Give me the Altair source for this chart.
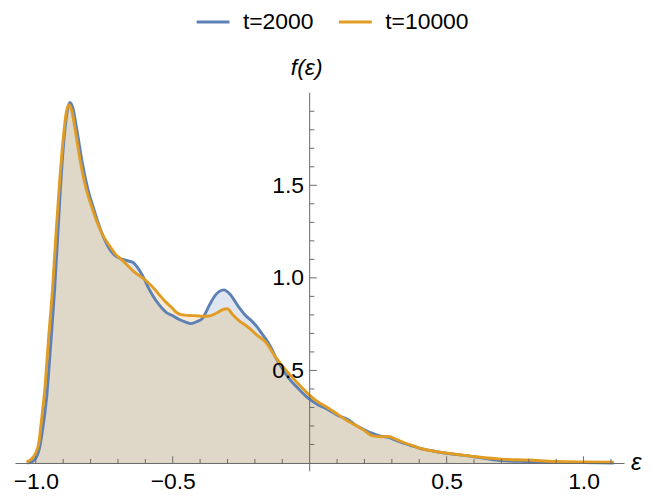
import altair as alt
import pandas as pd

FONT = "Liberation Sans"
SERIES = ["t=2000", "t=10000"]
COLORS = ["#5E81B5", "#E19C24"]

BLUE_X = [-1.03, -1.01, -0.99, -0.975, -0.96, -0.945, -0.931, -0.92, -0.91, -0.895,
          -0.885, -0.876, -0.865, -0.85, -0.83, -0.81, -0.79, -0.773, -0.75, -0.731,
          -0.71, -0.682, -0.66, -0.646, -0.63, -0.61, -0.59, -0.573, -0.55, -0.525,
          -0.5, -0.476, -0.455, -0.434, -0.41, -0.392, -0.367, -0.345, -0.313, -0.29,
          -0.26, -0.234, -0.21, -0.192, -0.175, -0.161, -0.14, -0.125, -0.10, -0.076,
          -0.04, -0.004, 0.03, 0.069, 0.105, 0.142, 0.166, 0.20, 0.227, 0.26,
          0.287, 0.32, 0.348, 0.38, 0.408, 0.45, 0.493, 0.54, 0.59, 0.65,
          0.70, 0.80, 0.90, 1.0, 1.11]
BLUE_Y = [0.0, 0.01, 0.06, 0.18, 0.36, 0.65, 0.94, 1.22, 1.48, 1.78,
          1.90, 1.948, 1.92, 1.80, 1.62, 1.48, 1.38, 1.30, 1.21, 1.156,
          1.12, 1.10, 1.09, 1.084, 1.06, 1.012, 0.95, 0.905, 0.855, 0.815,
          0.795, 0.775, 0.762, 0.753, 0.765, 0.78, 0.85, 0.905, 0.935, 0.91,
          0.845, 0.797, 0.765, 0.735, 0.70, 0.672, 0.62, 0.573, 0.51, 0.457,
          0.40, 0.349, 0.315, 0.287, 0.255, 0.233, 0.206, 0.18, 0.161, 0.145,
          0.138, 0.12, 0.105, 0.09, 0.077, 0.065, 0.054, 0.045, 0.036, 0.022,
          0.013, 0.008, 0.003, 0.002, 0.0]

ORANGE_X = [-1.034, -1.01, -0.99, -0.98, -0.967, -0.953, -0.939, -0.927, -0.915, -0.90,
            -0.889, -0.879, -0.868, -0.855, -0.835, -0.816, -0.795, -0.776, -0.755, -0.731,
            -0.71, -0.682, -0.66, -0.646, -0.61, -0.59, -0.573, -0.55, -0.525, -0.5,
            -0.488, -0.465, -0.44, -0.41, -0.392, -0.367, -0.34, -0.315, -0.301, -0.28,
            -0.255, -0.234, -0.21, -0.192, -0.161, -0.125, -0.10, -0.076, -0.04, -0.004,
            0.03, 0.069, 0.105, 0.142, 0.166, 0.20, 0.227, 0.26, 0.287, 0.32,
            0.348, 0.38, 0.408, 0.45, 0.493, 0.54, 0.59, 0.65, 0.70, 0.80,
            0.90, 1.0, 1.11]
ORANGE_Y = [0.005, 0.03, 0.10, 0.22, 0.40, 0.68, 0.94, 1.22, 1.48, 1.75,
            1.89, 1.935, 1.90, 1.79, 1.61, 1.48, 1.38, 1.30, 1.23, 1.174,
            1.13, 1.093, 1.06, 1.039, 1.0, 0.975, 0.95, 0.91, 0.869, 0.835,
            0.815, 0.80, 0.797, 0.795, 0.793, 0.794, 0.81, 0.83, 0.833, 0.80,
            0.765, 0.744, 0.715, 0.69, 0.654, 0.573, 0.525, 0.484, 0.425, 0.371,
            0.33, 0.296, 0.26, 0.224, 0.205, 0.175, 0.148, 0.142, 0.143, 0.125,
            0.108, 0.092, 0.077, 0.065, 0.055, 0.046, 0.037, 0.027, 0.021, 0.016,
            0.008, 0.006, 0.005]

X_LABELS = [-1.0, -0.5, 0.5, 1.0]
Y_LABELS = [0.5, 1.0, 1.5]
X_MINOR = [-0.9, -0.8, -0.7, -0.6, -0.4, -0.3, -0.2, -0.1,
           0.1, 0.2, 0.3, 0.4, 0.6, 0.7, 0.8, 0.9, 1.1]
Y_MINOR = [0.1, 0.2, 0.3, 0.4, 0.6, 0.7, 0.8, 0.9,
           1.1, 1.2, 1.3, 1.4, 1.6, 1.7, 1.8, 1.9]
X_DOMAIN = [-1.076, 1.148]
Y_DOMAIN = [0.0, 2.0]

AXIS_COLOR = "#6a6a6a"
FS = 23

df = pd.concat([
    pd.DataFrame({"x": BLUE_X, "y": BLUE_Y, "series": SERIES[0]}),
    pd.DataFrame({"x": ORANGE_X, "y": ORANGE_Y, "series": SERIES[1]}),
], ignore_index=True)

xs = alt.Scale(domain=X_DOMAIN, nice=False, zero=False)
ys = alt.Scale(domain=Y_DOMAIN, nice=False, zero=False)

x_axis = alt.Axis(values=X_LABELS, format=".1f", ticks=False, domain=True,
                  domainColor=AXIS_COLOR, domainWidth=1, labelFontSize=FS,
                  labelFont=FONT, labelColor="black", labelPadding=8,
                  grid=False, title=None, zindex=1)
y_axis = alt.Axis(values=Y_LABELS, format=".1f", ticks=False, domain=False,
                  labelFontSize=FS, labelFont=FONT, labelColor="black",
                  labelPadding=6, offset=-296, grid=False, title=None, zindex=1)

X = alt.X("x:Q", scale=xs, axis=x_axis)
Y = alt.Y("y:Q", scale=ys, axis=y_axis, stack=None)

stroke_enc = alt.Stroke(
    "series:N",
    scale=alt.Scale(domain=SERIES, range=COLORS),
    legend=alt.Legend(orient="none", legendX=181, legendY=-89, direction="horizontal",
                      title=None, symbolType="stroke", symbolSize=1089,
                      symbolStrokeWidth=3, labelFontSize=FS, labelFont=FONT,
                      labelColor="black", labelOffset=12, columnPadding=19,
                      padding=0),
)

base = alt.Chart(df)
layers = []
for s, c in zip(SERIES, COLORS):
    layers.append(
        base.transform_filter(alt.datum.series == s)
        .mark_area(interpolate="monotone", fill=c, fillOpacity=0.2)
        .encode(x=X, y=Y)
    )
for s in SERIES:
    layers.append(
        base.transform_filter(alt.datum.series == s)
        .mark_line(interpolate="monotone", strokeWidth=2.9)
        .encode(x=X, y=Y, stroke=stroke_enc)
    )

one = pd.DataFrame({"k": [0]})
xminor = alt.Chart(pd.DataFrame({"t": X_MINOR})).mark_rule(color=AXIS_COLOR, strokeWidth=1).encode(
    x=alt.X("t:Q", scale=xs), y=alt.datum(0.0), y2=alt.datum(0.022))
xmajor = alt.Chart(pd.DataFrame({"t": X_LABELS})).mark_rule(color=AXIS_COLOR, strokeWidth=1).encode(
    x=alt.X("t:Q", scale=xs), y=alt.datum(0.0), y2=alt.datum(0.036))
yminor = alt.Chart(pd.DataFrame({"t": Y_MINOR})).mark_rule(color=AXIS_COLOR, strokeWidth=1).encode(
    y=alt.Y("t:Q", scale=ys), x=alt.datum(0.0), x2=alt.datum(0.017))
ymajor = alt.Chart(pd.DataFrame({"t": Y_LABELS})).mark_rule(color=AXIS_COLOR, strokeWidth=1).encode(
    y=alt.Y("t:Q", scale=ys), x=alt.datum(0.0), x2=alt.datum(0.026))
yline = alt.Chart(one).mark_rule(color=AXIS_COLOR, strokeWidth=1).encode(
    x=alt.datum(0.0), y=alt.datum(-0.045), y2=alt.datum(2.0))
ylab = alt.Chart(one).mark_text(text="f(ε)", font=FONT, fontSize=FS, fontStyle="italic",
                                baseline="middle", align="center", dy=-25, dx=-3,
                                color="black").encode(
    x=alt.datum(0.0), y=alt.datum(2.0))
xlab = alt.Chart(one).mark_text(text="ε", font=FONT, fontSize=FS + 1, fontStyle="italic",
                                baseline="middle", align="left", dx=7, dy=0,
                                color="black").encode(
    x=alt.datum(X_DOMAIN[1]), y=alt.datum(0.0))

chart = alt.layer(*layers, xminor, xmajor, yminor, ymajor, yline, ylab, xlab).properties(
    width=612, height=372,
    padding={"left": 7, "top": 84, "right": 20, "bottom": 30},
    autosize=alt.AutoSizeParams(type="none"),
    background="white",
).configure_view(strokeWidth=0, stroke="transparent")

chart.save("out.html", embed_options={"renderer": "svg", "actions": False})
